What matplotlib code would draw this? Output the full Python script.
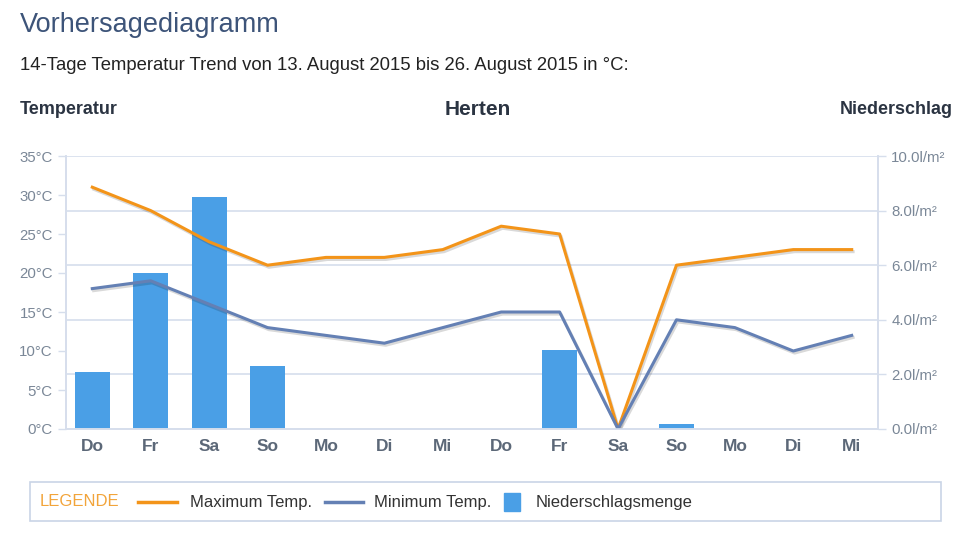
import numpy as np
import matplotlib.pyplot as plt
import matplotlib.patheffects as pe
from matplotlib.lines import Line2D
from matplotlib.patches import Rectangle

plt.rcParams['font.family'] = ['Liberation Sans', 'DejaVu Sans']

days = ['Do', 'Fr', 'Sa', 'So', 'Mo', 'Di', 'Mi', 'Do', 'Fr', 'Sa', 'So', 'Mo', 'Di', 'Mi']
t_max = [31, 28, 24, 21, 22, 22, 23, 26, 25, 0, 21, 22, 23, 23]
t_min = [18, 19, 16, 13, 12, 11, 13, 15, 15, 0, 14, 13, 10, 12]
rain = [2.1, 5.7, 8.5, 2.3, 0, 0, 0, 0, 2.9, 0, 0.2, 0, 0, 0]

temp_ticks = [0, 5, 10, 15, 20, 25, 30, 35]
rain_ticks = [0, 2, 4, 6, 8, 10]

c_max = '#F39419'
c_min = '#6480B4'
c_bar = '#4A9FE6'
c_grid = '#D6DEEC'
c_tick = '#7A8797'

W, H = 969, 536
fig = plt.figure(figsize=(W / 100, H / 100), dpi=100)

def fx(px):
    return px / W

def fy(py):
    return 1 - py / H

ax = fig.add_axes([fx(66), fy(429), fx(878) - fx(66), fy(156) - fy(429)])
ax2 = ax.twinx()
ax.set_zorder(ax2.get_zorder() + 1)
ax.patch.set_visible(False)

x = np.arange(len(days))

# bars (right axis)
ax2.bar(x, rain, width=0.6, color=c_bar, zorder=2)
ax2.set_ylim(0, 10)
ax2.set_yticks(rain_ticks)
ax2.set_yticklabels(['%.1fl/m²' % v for v in rain_ticks])
ax2.grid(axis='y', color=c_grid, linewidth=1.2, zorder=0)
ax2.set_axisbelow(True)

# lines (left axis)
shadow = [pe.SimpleLineShadow(offset=(1, -1.5), alpha=0.15), pe.Normal()]
ax.plot(x, t_max, color=c_max, linewidth=2.2, solid_joinstyle='round', path_effects=shadow)
ax.plot(x, t_min, color=c_min, linewidth=2.2, solid_joinstyle='round', path_effects=shadow)
ax.set_ylim(0, 35)
ax.set_yticks(temp_ticks)
ax.set_yticklabels(['%d°C' % v for v in temp_ticks])
ax.set_xlim(-0.45, len(days) - 0.55)
ax.set_xticks(x)
ax.set_xticklabels(days, fontweight='bold')

for a in (ax, ax2):
    for s in a.spines.values():
        s.set_color(c_grid)
        s.set_linewidth(1.2)
    a.spines['top'].set_visible(False)
    a.tick_params(axis='y', colors=c_grid, labelcolor=c_tick, labelsize=10.8, length=6, width=1)
    a.tick_params(axis='x', length=0, labelcolor='#5C6878', labelsize=12.5, pad=7)

# texts
fig.text(fx(20), fy(25), 'Vorhersagediagramm', fontsize=19.5, color='#3D5479', va='center')
fig.text(fx(20), fy(65), '14-Tage Temperatur Trend von 13. August 2015 bis 26. August 2015 in °C:',
         fontsize=13.3, color='#222222', va='center')
fig.text(fx(20), fy(109), 'Temperatur', fontsize=13, fontweight='bold', color='#2B3442', va='center')
fig.text(fx(478), fy(109), 'Herten', fontsize=15, fontweight='bold', color='#2B3442', va='center', ha='center')
fig.text(fx(953), fy(109), 'Niederschlag', fontsize=12.9, fontweight='bold', color='#2B3442', va='center', ha='right')

# legend box
fig.patches.append(Rectangle((fx(30), fy(521)), fx(941) - fx(30), fy(482) - fy(521),
                             transform=fig.transFigure, fill=False, edgecolor='#C9D4E6', linewidth=1.2))
ly = fy(502)
fig.text(fx(40), ly, 'LEGENDE', fontsize=12, color='#F2A43A', va='center')
fig.lines.append(Line2D([fx(138), fx(177)], [ly, ly], transform=fig.transFigure, color=c_max, linewidth=2.5))
fig.text(fx(190), ly, 'Maximum Temp.', fontsize=12, color='#333333', va='center')
fig.lines.append(Line2D([fx(325), fx(363)], [ly, ly], transform=fig.transFigure, color=c_min, linewidth=2.5))
fig.text(fx(374), ly, 'Minimum Temp.', fontsize=12, color='#333333', va='center')
fig.patches.append(Rectangle((fx(504), fy(511)), fx(520) - fx(504), fy(493) - fy(511),
                             transform=fig.transFigure, color=c_bar))
fig.text(fx(536), ly, 'Niederschlagsmenge', fontsize=12, color='#333333', va='center')

fig.savefig('out.png', dpi=100, facecolor='white')
